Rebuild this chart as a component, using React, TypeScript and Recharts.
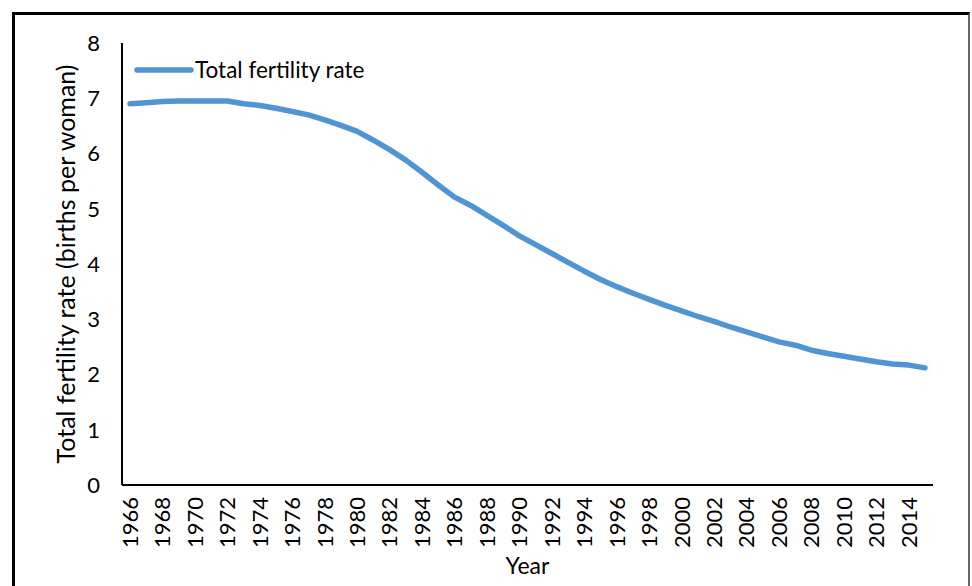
import React from "react";
import { LineChart, Line, XAxis, YAxis, Legend } from "recharts";

// Total fertility rate, births per woman
const years = [
  1966, 1967, 1968, 1969, 1970, 1971, 1972, 1973, 1974, 1975,
  1976, 1977, 1978, 1979, 1980, 1981, 1982, 1983, 1984, 1985,
  1986, 1987, 1988, 1989, 1990, 1991, 1992, 1993, 1994, 1995,
  1996, 1997, 1998, 1999, 2000, 2001, 2002, 2003, 2004, 2005,
  2006, 2007, 2008, 2009, 2010, 2011, 2012, 2013, 2014, 2015,
];
const tfr = [
  6.9, 6.92, 6.94, 6.95, 6.95, 6.95, 6.95, 6.9, 6.87, 6.82,
  6.76, 6.7, 6.61, 6.51, 6.4, 6.24, 6.07, 5.88, 5.66, 5.43,
  5.21, 5.06, 4.88, 4.7, 4.51, 4.35, 4.19, 4.03, 3.87, 3.72,
  3.59, 3.47, 3.36, 3.25, 3.15, 3.05, 2.96, 2.86, 2.77, 2.68,
  2.59, 2.53, 2.44, 2.38, 2.33, 2.28, 2.23, 2.19, 2.17, 2.12,
];
const yTicks = [0, 1, 2, 3, 4, 5, 6, 7, 8];

const seriesName = "Total fertility rate";
const yTitle = "Total fertility rate (births per woman)";
const xTitle = "Year";

const data = years.map((y, i) => ({ year: String(y), tfr: tfr[i] }));

const FONT = "Lato, 'Open Sans', sans-serif";
const BLUE = "#5094D4";

const XTick = (props: any) => {
  const { x, y, payload } = props;
  return (
    <text
      x={x}
      y={y}
      transform={`rotate(-90 ${x} ${y})`}
      textAnchor="end"
      dy="0.36em"
      fontSize={22}
      fontFamily={FONT}
      fill="#000"
    >
      {payload.value}
    </text>
  );
};

const renderLegend = () => (
  <div style={{ display: "flex", alignItems: "center", fontFamily: FONT }}>
    <svg width={62} height={12}>
      <line x1={4} y1={6} x2={58} y2={6} stroke={BLUE} strokeWidth={5.5} strokeLinecap="round" />
    </svg>
    <span style={{ fontSize: 22.5, color: "#000", marginLeft: 0, lineHeight: "30px" }}>{seriesName}</span>
  </div>
);

export default function App() {
  return (
    <div
      style={{
        position: "absolute",
        left: 0,
        top: 0,
        width: 972,
        height: 586,
        overflow: "hidden",
        background: "#fff",
      }}
    >
      <div
        style={{
          position: "absolute",
          left: 12,
          top: 12,
          width: 958,
          height: 700,
          boxSizing: "border-box",
          borderLeft: "3px solid #000",
          borderTop: "3px solid #000",
          borderRight: "2px solid #666",
        }}
      />
      <div style={{ position: "absolute", left: 0, top: 0 }}>
        <LineChart
          width={972}
          height={586}
          data={data}
          margin={{ top: 43, right: 39, left: 62, bottom: 21 }}
        >
          <XAxis
            dataKey="year"
            interval={1}
            tick={XTick}
            tickLine={false}
            tickSize={0}
            tickMargin={12}
            height={80}
            padding={{ left: 8, right: 8 }}
            axisLine={{ stroke: "#000", strokeWidth: 2 }}
            label={{
              content: (p: any) => {
                const vb = p.viewBox || { x: 122, y: 485, width: 811 };
                return (
                  <text
                    x={vb.x + vb.width / 2}
                    y={vb.y + 89}
                    textAnchor="middle"
                    fontSize={23}
                    fontFamily={FONT}
                    fill="#000"
                  >
                    {xTitle}
                  </text>
                );
              },
            }}
          />
          <YAxis
            domain={[0, 8]}
            ticks={yTicks}
            interval={0}
            width={60}
            tickLine={false}
            tickSize={0}
            tickMargin={22}
            tick={{ fontSize: 22, fill: "#000", fontFamily: FONT }}
            axisLine={{ stroke: "#000", strokeWidth: 2 }}
            label={{
              content: (p: any) => {
                const vb = p.viewBox || { x: 62, y: 43, height: 442 };
                const cx = vb.x + 4;
                const cy = vb.y + vb.height / 2;
                return (
                  <text
                    x={cx}
                    y={cy}
                    transform={`rotate(-90 ${cx} ${cy})`}
                    textAnchor="middle"
                    dy="0.36em"
                    fontSize={25}
                    fontFamily={FONT}
                    fill="#000"
                  >
                    {yTitle}
                  </text>
                );
              },
            }}
          />
          <Legend
            layout="horizontal"
            verticalAlign="middle"
            align="center"
            wrapperStyle={{ top: 55, left: 133, width: 280, height: 30 }}
            content={renderLegend}
          />
          <Line
            type="linear"
            dataKey="tfr"
            name={seriesName}
            stroke={BLUE}
            strokeWidth={5.5}
            strokeLinecap="round"
            strokeLinejoin="round"
            dot={false}
            activeDot={false}
            isAnimationActive={false}
          />
        </LineChart>
      </div>
    </div>
  );
}
